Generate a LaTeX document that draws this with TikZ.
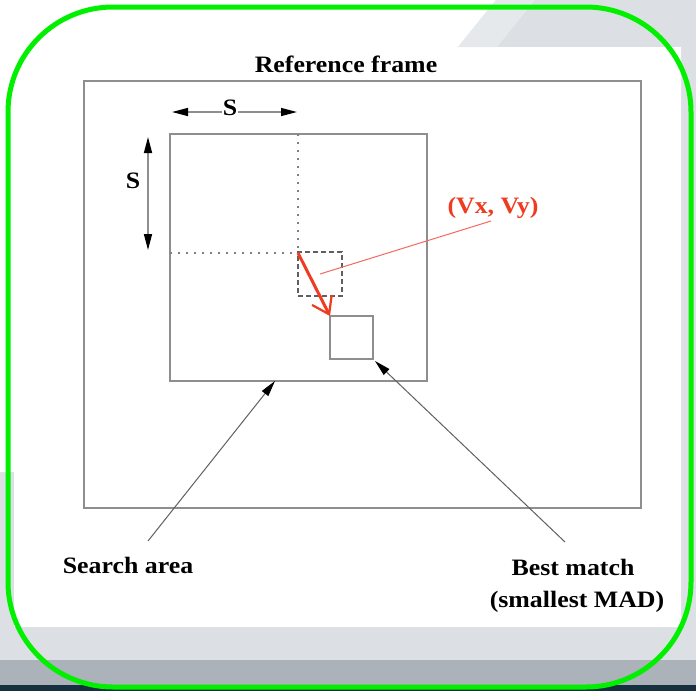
\documentclass[tikz,border=0pt]{standalone}
\usepackage{fontspec}
\setmainfont{Liberation Serif}
\usetikzlibrary{arrows.meta}
\definecolor{bgA}{HTML}{DCDFE3}
\definecolor{bgB}{HTML}{E6E9EC}
\definecolor{bgC}{HTML}{ABB2BA}
\definecolor{bgD}{HTML}{163040}
\definecolor{frameG}{RGB}{0,240,0}
\definecolor{lineg}{HTML}{8E8E8E}
\definecolor{arrg}{HTML}{606060}
\definecolor{redA}{HTML}{EE3B22}
\definecolor{redL}{HTML}{F26A5E}
\newcommand{\sx}[1]{\scalebox{1.1}[1]{#1}}
\begin{document}
\begin{tikzpicture}[x=1pt,y=-1pt,
  boxr/.style={draw=lineg,line width=1.5pt,inner sep=0pt,outer sep=0pt,rectangle},
  lbl/.style={inner sep=0pt,anchor=base,font=\fontsize{23.5}{27}\selectfont\bfseries},
  ptr/.style={draw=arrg,line width=1pt,-{Triangle[length=16pt,width=8pt,color=black]}},
  dim/.style={draw=lineg,line width=1.5pt,{Triangle[length=16pt,width=8pt,color=black]}-{Triangle[length=16pt,width=8pt,color=black]}},
  dotl/.style={draw=arrg!80,line width=1.6pt,dash pattern=on 1.6pt off 6.4pt}
]
\useasboundingbox (0,0) rectangle (696,691);
% background
\fill[bgA] (0,0) rectangle (696,691);
\fill[white] (0,0) -- (496,0) -- (458,47) -- (681,47) -- (681,627) -- (14,627) -- (14,472) -- (0,472) -- cycle;
\fill[bgB] (496,0) -- (535,0) -- (497,47) -- (458,47) -- cycle;
\fill[bgC] (0,660) rectangle (696,685);
\fill[bgD] (0,685) rectangle (696,691);
\draw[frameG,line width=5pt,rounded corners=105pt] (8,7) rectangle (691,687);

% frames
\node[boxr,minimum width=557pt,minimum height=427pt] (ref) at (362.5,294.5) {};
\node[boxr,minimum width=257pt,minimum height=247pt] (search) at (298.5,257.5) {};
\node[boxr,minimum width=43pt,minimum height=43pt] (best) at (351.5,337.5) {};
\node[draw=arrg,line width=1.3pt,dash pattern=on 5pt off 3pt,inner sep=0pt,outer sep=0pt,minimum width=44pt,minimum height=44pt] (cand) at (320,274) {};

% dotted centre lines
\coordinate (ctr) at (298,253);
\draw[dotl] (search.north -| ctr) -- (ctr);
\draw[dotl] (search.west |- ctr) -- (ctr);

% dimension arrows
\coordinate (hL) at (172,112);
\coordinate (hR) at (297,112);
\draw[dim] (hL) -- (hR);
\coordinate (vT) at (148,137);
\coordinate (vB) at (148,250);
\draw[dim] (vT) -- (vB);

% labels
\node[lbl] (title) at (346,72) {\sx{Reference frame}};
\node[lbl,fill=white,inner xsep=1pt] (sh) at (230,115) {\sx{S}};
\node[lbl] (sv) at (133,188) {\sx{S}};
\node[lbl,text=redA] (vxy) at (493,213) {\sx{(Vx, Vy)}};
\node[lbl] (salbl) at (128,573) {\sx{Search area}};
\node[lbl] (bmlbl) at (573,575) {\sx{Best match}};
\node[lbl] (madlbl) at (577,607) {\sx{(smallest MAD)}};

% motion vector
\draw[redA,line width=3pt,-{Straight Barb[length=16pt,width=22pt,line width=2.2pt]}] (ctr) -- (best.north west);
\coordinate (vxyTail) at (491,221);
\coordinate (vxyHead) at (320,274);
\draw[redL,line width=1pt] (vxyTail) -- (vxyHead);

% pointers
\coordinate (saTail) at (148,541);
\coordinate (saHead) at (275,381);
\draw[ptr] (saTail) -- (saHead);
\coordinate (bmTail) at (565,542);
\draw[ptr] (bmTail) -- ([shift={(2pt,-2pt)}]best.south east);
\end{tikzpicture}
\end{document}
